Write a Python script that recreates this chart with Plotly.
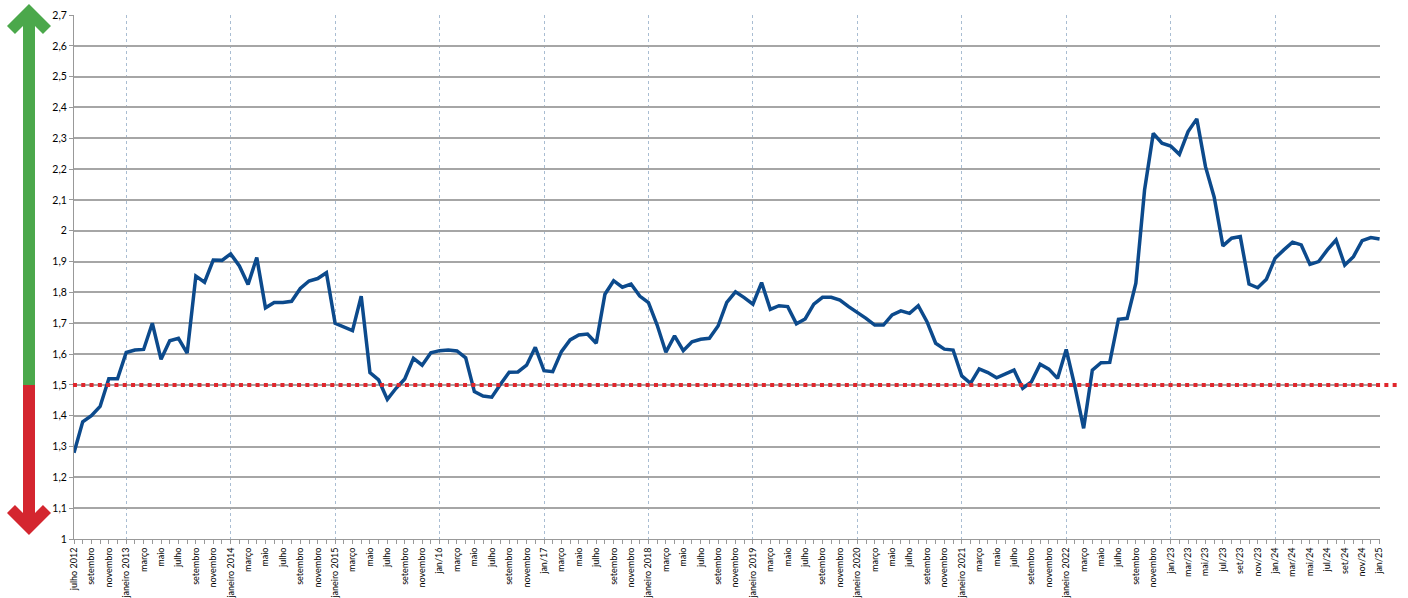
import plotly.graph_objects as go

# Monthly values, julho 2012 .. jan/25
values_2012 = [1.28, 1.38, 1.40, 1.43, 1.52, 1.52]
values_2013 = [1.605, 1.613, 1.615, 1.70, 1.583, 1.643, 1.651, 1.603, 1.853, 1.833, 1.905, 1.904]
values_2014 = [1.925, 1.886, 1.826, 1.913, 1.75, 1.767, 1.767, 1.771, 1.813, 1.837, 1.845, 1.864]
values_2015 = [1.70, 1.688, 1.676, 1.788, 1.540, 1.516, 1.453, 1.489, 1.519, 1.586, 1.564, 1.604]
values_2016 = [1.611, 1.613, 1.610, 1.588, 1.478, 1.464, 1.460, 1.502, 1.541, 1.542, 1.564, 1.622]
values_2017 = [1.546, 1.543, 1.608, 1.646, 1.662, 1.665, 1.635, 1.794, 1.838, 1.817, 1.827, 1.788]
values_2018 = [1.767, 1.694, 1.606, 1.659, 1.611, 1.640, 1.648, 1.651, 1.691, 1.768, 1.802, 1.783]
values_2019 = [1.762, 1.832, 1.745, 1.757, 1.754, 1.698, 1.714, 1.762, 1.784, 1.784, 1.775, 1.754]
values_2020 = [1.736, 1.716, 1.694, 1.694, 1.727, 1.740, 1.732, 1.757, 1.705, 1.635, 1.616, 1.613]
values_2021 = [1.529, 1.505, 1.552, 1.540, 1.523, 1.535, 1.548, 1.489, 1.510, 1.567, 1.551, 1.521]
values_2022 = [1.615, 1.494, 1.359, 1.548, 1.572, 1.573, 1.713, 1.716, 1.830, 2.132, 2.316, 2.284]
values_2023 = [2.275, 2.248, 2.322, 2.363, 2.208, 2.109, 1.951, 1.976, 1.981, 1.827, 1.815, 1.843]
values_2024 = [1.911, 1.938, 1.963, 1.954, 1.891, 1.900, 1.938, 1.970, 1.889, 1.916, 1.968, 1.978]
values_2025 = [1.973]

values = (values_2012 + values_2013 + values_2014 + values_2015 + values_2016 + values_2017
          + values_2018 + values_2019 + values_2020 + values_2021 + values_2022 + values_2023
          + values_2024 + values_2025)

# Labels shown every second month
x_labels = [
    "julho 2012", "setembro", "novembro",
    "janeiro 2013", "março", "maio", "julho", "setembro", "novembro",
    "janeiro 2014", "março", "maio", "julho", "setembro", "novembro",
    "janeiro 2015", "março", "maio", "julho", "setembro", "novembro",
    "jan/16", "março", "maio", "julho", "setembro", "novembro",
    "jan/17", "março", "maio", "julho", "setembro", "novembro",
    "janeiro 2018", "março", "maio", "julho", "setembro", "novembro",
    "janeiro 2019", "março", "maio", "julho", "setembro", "novembro",
    "janeiro 2020", "março", "maio", "julho", "setembro", "novembro",
    "janeiro 2021", "março", "maio", "julho", "setembro", "novembro",
    "janeiro 2022", "março", "maio", "julho", "setembro", "novembro",
    "jan/23", "mar/23", "mai/23", "jul/23", "set/23", "nov/23",
    "jan/24", "mar/24", "mai/24", "jul/24", "set/24", "nov/24",
    "jan/25",
]

y_ticks = [1.0, 1.1, 1.2, 1.3, 1.4, 1.5, 1.6, 1.7, 1.8, 1.9, 2.0, 2.1, 2.2, 2.3, 2.4, 2.5, 2.6, 2.7]
y_ticktext = ["1", "1,1", "1,2", "1,3", "1,4", "1,5", "1,6", "1,7", "1,8", "1,9",
              "2", "2,1", "2,2", "2,3", "2,4", "2,5", "2,6", "2,7"]
threshold = 1.5
y_min, y_max = 1.0, 2.7

idx = list(range(len(values)))
tickvals = idx
ticktext = []
for i in idx:
    ticktext.append(x_labels[i // 2] if i % 2 == 0 else "")
jan_idx = [2 * k for k, lab in enumerate(x_labels) if lab.startswith("jan")]

W, H = 1408, 598
ML, MR, MT, MB = 74, 28, 15, 59
PW, PH = W - ML - MR, H - MT - MB


def px2paper(px, py):
    return (px - ML) / PW, (H - MB - py) / PH


def path_from_px(points):
    parts = []
    for k, (px, py) in enumerate(points):
        x, y = px2paper(px, py)
        parts.append(("M" if k == 0 else "L") + f"{x:.5f},{y:.5f}")
    return " ".join(parts) + " Z"


yb = MT + PH * (y_max - threshold) / (y_max - y_min)
green_pts = [(29, 4), (51, 26), (43, 34), (35, 26), (35, yb), (23, yb), (23, 26), (15, 34), (7, 26)]
red_pts = [(29, 535), (51, 513), (43, 505), (35, 513), (35, yb), (23, yb), (23, 513), (15, 505), (7, 513)]

fig = go.Figure()
fig.add_trace(go.Scatter(
    x=idx, y=values, mode="lines",
    line=dict(color="#0c4a8c", width=3.5),
    hoverinfo="skip", showlegend=False,
))

thr_paper = (threshold - y_min) / (y_max - y_min)
shapes = [
    dict(type="line", xref="paper", yref="paper", x0=-0.0008, x1=(1398 - ML) / PW,
         y0=thr_paper, y1=thr_paper, line=dict(color="#e0262c", width=4, dash="4px,4.3px"),
         layer="above"),
    dict(type="path", xref="paper", yref="paper", path=path_from_px(green_pts),
         fillcolor="#4ba84b", line=dict(width=0)),
    dict(type="path", xref="paper", yref="paper", path=path_from_px(red_pts),
         fillcolor="#d4262f", line=dict(width=0)),
]

fig.update_layout(
    width=W, height=H,
    margin=dict(l=ML, r=MR, t=MT, b=MB),
    paper_bgcolor="white", plot_bgcolor="white",
    font=dict(family="Lato", color="#000000"),
    shapes=shapes,
    showlegend=False,
    xaxis=dict(
        range=[0, len(values) - 1 + 0.05],
        tickmode="array", tickvals=tickvals, ticktext=ticktext,
        tickangle=-90, tickfont=dict(family="Lato", size=9, color="#000000"),
        ticks="outside", ticklen=4, tickcolor="#999999",
        showgrid=False, zeroline=False,
        showline=True, linecolor="#999999", linewidth=1,
        automargin=False,
        minor=dict(tickmode="array", tickvals=jan_idx, showgrid=True,
                   gridcolor="#a9bdd2", griddash="dot", gridwidth=1, ticks=""),
    ),
    yaxis=dict(
        range=[y_min, y_max],
        tickmode="array", tickvals=y_ticks, ticktext=y_ticktext,
        tickfont=dict(family="Lato", size=10.5, color="#000000"),
        ticks="outside", ticklen=4, tickcolor="#999999",
        showgrid=True, gridcolor="#a6a6a6", gridwidth=1.5,
        zeroline=False, showline=True, linecolor="#999999", linewidth=1,
        automargin=False,
    ),
)

fig.write_html("out.html", config={"displayModeBar": False},
               post_script="document.body.style.margin='0';document.body.style.overflow='hidden';")
